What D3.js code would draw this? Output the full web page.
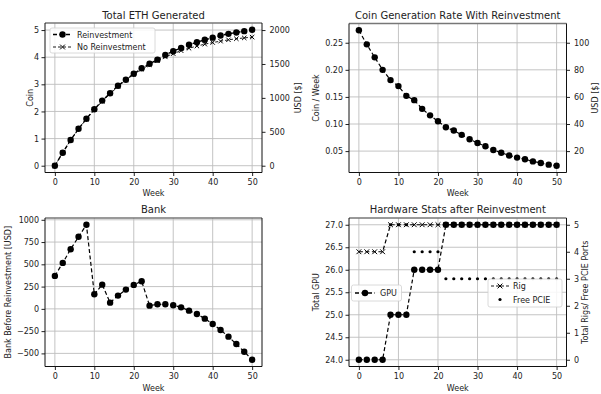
<!DOCTYPE html>
<html>
<head>
<meta charset="utf-8">
<script src="https://cdn.jsdelivr.net/npm/d3@7"></script>
<style>
body { margin: 0; background: #fff; }
text { font-family: "DejaVu Sans", sans-serif; fill: #222; }
</style>
</head>
<body>
<svg id="chart" width="601" height="394"></svg>
<script>
var weeks = [0, 2, 4, 6, 8, 10, 12, 14, 16, 18, 20, 22, 24, 26, 28, 30, 32, 34, 36, 38, 40, 42, 44, 46, 48, 50];
var ethReinvest = [0, 0.48, 0.95, 1.36, 1.73, 2.08, 2.40, 2.67, 2.95, 3.17, 3.39, 3.59, 3.76, 3.91, 4.08, 4.22, 4.34, 4.46, 4.55, 4.64, 4.72, 4.80, 4.86, 4.91, 4.96, 5.01];
var ethNoReinvest = [0, 0.48, 0.95, 1.36, 1.72, 2.06, 2.37, 2.65, 2.92, 3.16, 3.37, 3.56, 3.72, 3.87, 4.01, 4.13, 4.24, 4.33, 4.41, 4.48, 4.54, 4.59, 4.64, 4.68, 4.71, 4.74];
var coinRate = [0.273, 0.247, 0.223, 0.200, 0.181, 0.170, 0.152, 0.144, 0.128, 0.116, 0.105, 0.094, 0.088, 0.080, 0.072, 0.065, 0.059, 0.052, 0.047, 0.042, 0.038, 0.035, 0.031, 0.028, 0.025, 0.023];
var bank = [370, 516, 670, 809, 944, 164, 272, 70, 149, 216, 269, 310, 36, 51, 51, 40, 17, -20, -57, -110, -170, -237, -312, -395, -481, -571];
var gpus = [24, 24, 24, 24, 25, 25, 25, 26, 26, 26, 26, 27, 27, 27, 27, 27, 27, 27, 27, 27, 27, 27, 27, 27, 27, 27];
var rigs = [4, 4, 4, 4, 5, 5, 5, 5, 5, 5, 5, 5, 5, 5, 5, 5, 5, 5, 5, 5, 5, 5, 5, 5, 5, 5];
var freePcie = [0, 0, 0, 0, 5, 5, 5, 4, 4, 4, 4, 3, 3, 3, 3, 3, 3, 3, 3, 3, 3, 3, 3, 3, 3, 3];
var usdPerCoin = 400;
var xTicks = [0, 10, 20, 30, 40, 50];

var svg = d3.select('#chart');

function makePanel(box, yDom, yTicks, yFmt, yrDom, yrTicks) {
    var x = d3.scaleLinear().domain([-2.5, 52.5]).range([box.l, box.r]);
    var y = d3.scaleLinear().domain(yDom).range([box.b, box.t]);
    var g = svg.append('g');
    g.selectAll('.vg').data(xTicks).enter().append('line')
        .attr('x1', d => x(d)).attr('x2', d => x(d))
        .attr('y1', box.t).attr('y2', box.b)
        .attr('stroke', '#bdbdbd').attr('stroke-width', 0.9);
    g.selectAll('.hg').data(yTicks).enter().append('line')
        .attr('y1', d => y(d)).attr('y2', d => y(d))
        .attr('x1', box.l).attr('x2', box.r)
        .attr('stroke', '#bdbdbd').attr('stroke-width', 0.9);

    var ax = g.append('g').attr('transform', 'translate(0,' + box.b + ')')
        .call(d3.axisBottom(x).tickValues(xTicks).tickSize(3.5).tickPadding(3));
    var ay = g.append('g').attr('transform', 'translate(' + box.l + ',0)')
        .call(d3.axisLeft(y).tickValues(yTicks).tickFormat(yFmt).tickSize(3.5).tickPadding(2.5));
    var axes = [ax, ay];
    var yr = null;
    if (yrDom) {
        yr = d3.scaleLinear().domain(yrDom).range([box.b, box.t]);
        axes.push(g.append('g').attr('transform', 'translate(' + box.r + ',0)')
            .call(d3.axisRight(yr).tickValues(yrTicks).tickFormat(d3.format('d')).tickSize(3.5).tickPadding(4)));
    }
    axes.forEach(function(a) {
        a.select('.domain').remove();
        a.selectAll('text').style('font-size', '8px').attr('fill', '#222');
        a.selectAll('line').attr('stroke', '#222');
    });
    return { x: x, y: y, yr: yr, g: g, box: box };
}

function spines(p) {
    var b = p.box;
    p.g.append('line').attr('x1', b.l).attr('x2', b.r).attr('y1', b.t).attr('y2', b.t)
        .attr('stroke', '#777').attr('stroke-width', 1.3);
    p.g.append('path')
        .attr('d', 'M' + b.l + ',' + b.t + 'V' + b.b + 'H' + b.r + 'V' + b.t)
        .attr('fill', 'none').attr('stroke', '#111').attr('stroke-width', 1);
}

function dashedLine(g, xs, ys, px, py, w, dash) {
    var line = d3.line().x((d, i) => px(xs[i])).y(d => py(d));
    g.append('path').datum(ys).attr('d', line)
        .attr('fill', 'none').attr('stroke', '#000')
        .attr('stroke-width', w).attr('stroke-dasharray', dash);
}

function dots(g, xs, ys, px, py, r) {
    g.selectAll(null).data(ys).enter().append('circle')
        .attr('cx', (d, i) => px(xs[i])).attr('cy', d => py(d))
        .attr('r', r).attr('fill', '#000');
}

function crosses(g, xs, ys, px, py, s) {
    g.selectAll(null).data(ys).enter().append('path')
        .attr('d', (d, i) => {
            var cx = px(xs[i]), cy = py(d);
            return 'M' + (cx - s) + ',' + (cy - s) + 'L' + (cx + s) + ',' + (cy + s) +
                'M' + (cx - s) + ',' + (cy + s) + 'L' + (cx + s) + ',' + (cy - s);
        })
        .attr('stroke', '#000').attr('stroke-width', 1).attr('fill', 'none');
}

function labels(p, title, titleY, xlabY, ylab, ylabX, yrlab, yrlabX) {
    var b = p.box, cx = (b.l + b.r) / 2, cy = (b.t + b.b) / 2;
    svg.append('text').attr('x', cx).attr('y', titleY).attr('text-anchor', 'middle')
        .style('font-size', '10px').text(title);
    svg.append('text').attr('x', cx).attr('y', xlabY).attr('text-anchor', 'middle')
        .style('font-size', '8px').text('Week');
    svg.append('text').attr('transform', 'translate(' + ylabX + ',' + cy + ') rotate(-90)')
        .attr('text-anchor', 'middle').style('font-size', '8px').text(ylab);
    if (yrlab) {
        svg.append('text').attr('transform', 'translate(' + yrlabX + ',' + cy + ') rotate(-90)')
            .attr('text-anchor', 'middle').style('font-size', '8px').text(yrlab);
    }
}

function legendBox(x0, y0, w, h) {
    svg.append('rect').attr('x', x0).attr('y', y0).attr('width', w).attr('height', h)
        .attr('rx', 2).attr('fill', '#fff').attr('fill-opacity', 0.85)
        .attr('stroke', '#d0d0d0').attr('stroke-width', 0.8);
}

function legendItem(x0, x1, y0, textX, kind, label) {
    var g = svg.append('g');
    var mx = (x0 + x1) / 2;
    if (kind === 'circle' || kind === 'cross') {
        g.append('line').attr('x1', x0).attr('x2', x1).attr('y1', y0).attr('y2', y0)
            .attr('stroke', '#000').attr('stroke-width', kind === 'circle' ? 1.6 : 0.9)
            .attr('stroke-dasharray', kind === 'circle' ? '4,2.5' : '3,2');
    }
    if (kind === 'circle') dots(g, [0], [y0], () => mx, d => d, 3.2);
    if (kind === 'cross') crosses(g, [0], [y0], () => mx, d => d, 2.4);
    if (kind === 'dot') dots(g, [0], [y0], () => mx, d => d, 1.6);
    svg.append('text').attr('x', textX).attr('y', y0 + 3).style('font-size', '8px').text(label);
}

// Panel 1: Total ETH generated
var p1 = makePanel({ l: 45, r: 262, t: 23, b: 172.5 }, [-0.25, 5.26], [0, 1, 2, 3, 4, 5], d3.format('d'),
    [-0.25 * usdPerCoin, 5.26 * usdPerCoin], [0, 500, 1000, 1500, 2000]);
dashedLine(p1.g, weeks, ethReinvest, p1.x, p1.y, 1.4, '4,2.5');
dots(p1.g, weeks, ethReinvest, p1.x, p1.y, 3.2);
dashedLine(p1.g, weeks, ethNoReinvest, p1.x, p1.y, 0.9, '3,2');
crosses(p1.g, weeks, ethNoReinvest, p1.x, p1.y, 2.2);
spines(p1);
labels(p1, 'Total ETH Generated', 19, 196, 'Coin', 32.5, 'USD [$]', 301);
legendBox(50, 28, 105, 25);
legendItem(53, 72, 34.5, 77, 'circle', 'Reinvestment');
legendItem(53, 72, 47, 77, 'cross', 'No Reinvestment');

// Panel 2: Coin generation rate
var p2 = makePanel({ l: 349, r: 566.5, t: 23.5, b: 172.5 }, [0.0105, 0.2855], [0.05, 0.10, 0.15, 0.20, 0.25], d3.format('.2f'),
    [0.0105 * usdPerCoin, 0.2855 * usdPerCoin], [20, 40, 60, 80, 100]);
dashedLine(p2.g, weeks, coinRate, p2.x, p2.y, 1.2, '4,2.5');
dots(p2.g, weeks, coinRate, p2.x, p2.y, 3.2);
spines(p2);
labels(p2, 'Coin Generation Rate With Reinvestment', 19, 196, 'Coin / Week', 318.5, 'USD [$]', 597.5);

// Panel 3: Bank
var p3 = makePanel({ l: 45, r: 262, t: 218, b: 366.5 }, [-647, 1020], [-500, -250, 0, 250, 500, 750, 1000], d3.format('d'));
dashedLine(p3.g, weeks, bank, p3.x, p3.y, 1.2, '4,2.5');
dots(p3.g, weeks, bank, p3.x, p3.y, 3.2);
spines(p3);
labels(p3, 'Bank', 213, 391, 'Bank Before Reinvestment [USD]', 10.5);

// Panel 4: Hardware stats
var p4 = makePanel({ l: 349, r: 566.5, t: 218, b: 366.5 }, [23.85, 27.15], [24, 24.5, 25, 25.5, 26, 26.5, 27], d3.format('.1f'),
    [-0.25, 5.25], [0, 1, 2, 3, 4, 5]);
dashedLine(p4.g, weeks, gpus, p4.x, p4.y, 1.2, '4,2.5');
dots(p4.g, weeks, gpus, p4.x, p4.y, 3.2);
legendBox(351.5, 285, 50, 16);
legendItem(355, 375, 293, 380, 'circle', 'GPU');
dashedLine(p4.g, weeks, rigs, p4.x, p4.yr, 1.2, '4,2.5');
crosses(p4.g, weeks, rigs, p4.x, p4.yr, 2.4);
dots(p4.g, weeks, freePcie, p4.x, p4.yr, 1.6);
spines(p4);
labels(p4, 'Hardware Stats after Reinvestment', 213, 391, 'Total GPU', 318.5, 'Total Rigs/ Free PCIE Ports', 588);
legendBox(488, 279, 74, 28);
legendItem(491, 509, 286, 513, 'cross', 'Rig');
legendItem(491, 509, 299.5, 513, 'dot', 'Free PCIE');
</script>
</body>
</html>
